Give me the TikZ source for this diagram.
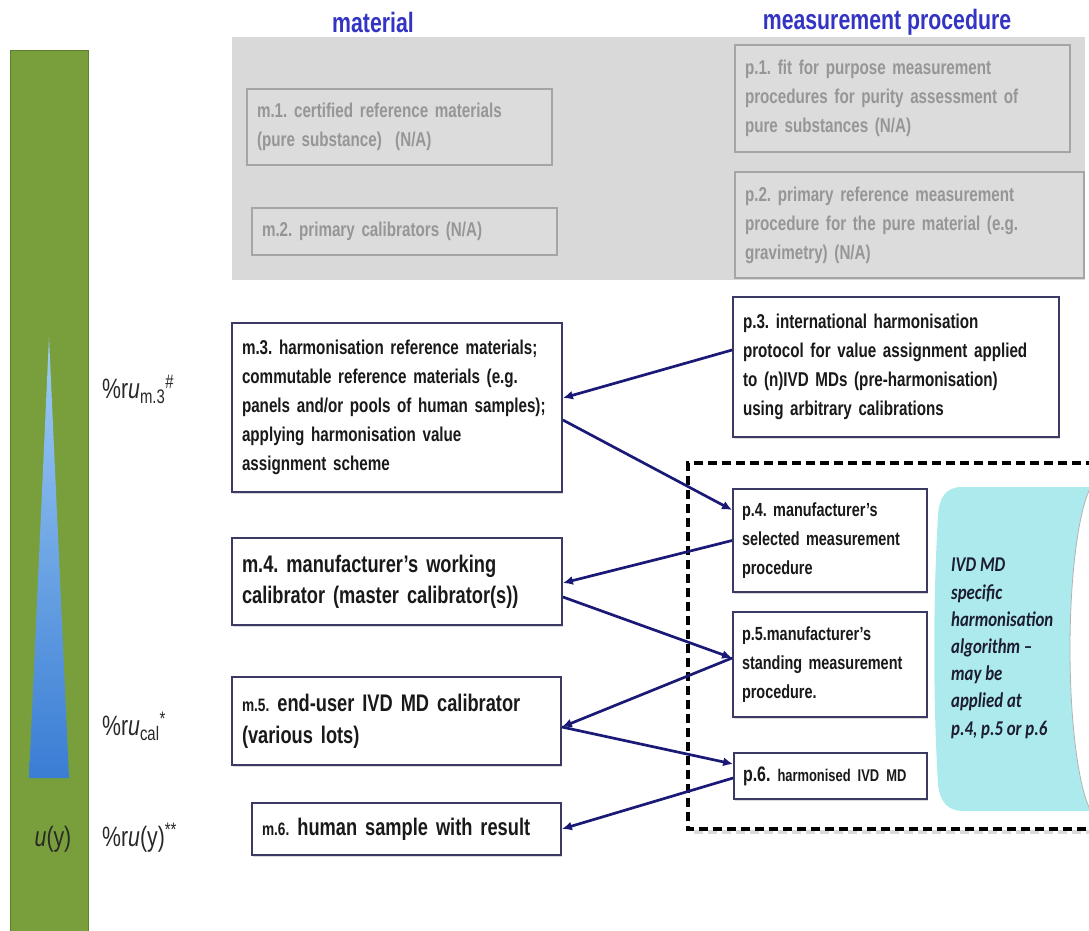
\documentclass[tikz,border=0pt]{standalone}
\usepackage{fontspec}
\setmainfont{Liberation Sans}[FakeStretch=0.76]
\newfontfamily\calib{Carlito}[FakeStretch=0.8]
\usetikzlibrary{shadows,arrows.meta}

\definecolor{barGreen}{RGB}{121,159,61}
\definecolor{barEdge}{RGB}{96,128,46}
\definecolor{triTop}{RGB}{160,205,245}
\definecolor{triBot}{RGB}{58,125,212}
\definecolor{bgGray}{RGB}{217,217,217}
\definecolor{gBoxFill}{RGB}{220,220,220}
\definecolor{gBoxLine}{RGB}{165,165,165}
\definecolor{gText}{RGB}{150,150,150}
\definecolor{hdrBlue}{RGB}{52,52,196}
\definecolor{boxLine}{RGB}{58,58,100}
\definecolor{navy}{RGB}{26,26,118}
\definecolor{algoCyan}{RGB}{172,234,238}
\definecolor{algoText}{RGB}{28,28,50}
\definecolor{lblText}{RGB}{40,40,40}

\begin{document}
\frenchspacing
\hyphenpenalty=10000
\exhyphenpenalty=10000
\begin{tikzpicture}[x=1pt,y=-1pt,
  box/.style={draw=boxLine, line width=1.8pt, fill=white, inner xsep=10pt,
    inner ysep=3pt, align=left, text=black!90,
    font=\bfseries\fontsize{20}{29}\selectfont,
    drop shadow={shadow xshift=1.2pt, shadow yshift=-2pt, opacity=0.3}},
  gbox/.style={draw=gBoxLine, line width=1.5pt, fill=gBoxFill, inner xsep=10pt,
    inner ysep=3pt, align=left, text=gText,
    font=\bfseries\fontsize{20}{29}\selectfont},
  header/.style={text=hdrBlue, font=\bfseries\fontsize{28}{28}\selectfont},
  lbl/.style={text=lblText, font=\fontsize{28}{28}\selectfont, inner sep=0pt},
  arr/.style={draw=navy, line width=2.7pt, -{Latex[length=10pt,width=9pt]}},
  algo/.style={text=algoText, align=left, inner sep=0pt,
    font=\calib\bfseries\itshape\fontsize{21}{27.2}\selectfont}
]
\useasboundingbox (0,0) rectangle (1089,931);

% uncertainty bar with the widening wedge
\fill[barGreen, draw=barEdge, line width=0.8pt] (10,50) rectangle (88,935);
\shade[top color=triTop, bottom color=triBot] (49,337) -- (69,778) -- (29,778) -- cycle;
\node[lbl, anchor=base] (uy) at (53,846) {\textit{u}(y)};

% relative uncertainty labels
\node[lbl, anchor=base west] (lm3) at (102,398) {\%r\textit{u}\textsubscript{m.3}\textsuperscript{\#}};
\node[lbl, anchor=base west] (lcal) at (102,735) {\%r\textit{u}\textsubscript{cal}\textsuperscript{*}};
\node[lbl, anchor=base west] (ly) at (102,846) {\%r\textit{u}(y)\textsuperscript{**}};

% column headers
\node[header] (hmat) at (373,22) {material};
\node[header] (hproc) at (887,22) {measurement procedure};

% not-applicable upper part
\fill[bgGray] (232,37) rectangle (1085,280);
\node[gbox, minimum width=305pt, minimum height=76pt, text width=285pt] (m1) at (399.5,127)
  {m.1. certified reference materials\\(pure substance)~~(N/A)};
\node[gbox, minimum width=305pt, minimum height=47pt, text width=285pt] (m2) at (404.5,231.5)
  {m.2. primary calibrators (N/A)};
\node[gbox, minimum width=335pt, minimum height=107pt, text width=315pt] (p1) at (902.5,98.5)
  {p.1. fit for purpose measurement\\procedures for purity assessment of\\pure substances (N/A)};
\node[gbox, minimum width=349pt, minimum height=106pt, text width=329pt] (p2) at (909.5,225)
  {p.2. primary reference measurement\\procedure for the pure material (e.g.\\gravimetry) (N/A)};

% dashed frame around the IVD MD procedures
\draw[black!15, line width=3.5pt, dash pattern=on 9pt off 5pt] (1095,832) -- (691,832);
\draw[black, line width=3.5pt, dash pattern=on 9pt off 5pt]
  (1095,463) -- (688,463) -- (688,829) -- (1095,829);

% harmonisation algorithm scroll
\fill[algoCyan] (1089,487) -- (962,487) .. controls (946,487) and (939,497) .. (938,516)
  .. controls (933,600) and (933,700) .. (938,784)
  .. controls (940,803) and (948,811) .. (964,811) -- (1089,811) -- cycle;
\fill[white, draw=black!30, line width=0.8pt] (1100,649) ellipse [x radius=30, y radius=170];
\node[algo, anchor=north west] (algo) at (951,558)
  {IVD MD\\specific\\harmonisation\\algorithm –\\may be\\applied at\\p.4, p.5 or p.6};

% material column
\node[box, minimum width=330pt, minimum height=169pt, text width=310pt] (m3) at (397,407.5)
  {m.3. harmonisation reference materials;\\commutable reference materials (e.g.\\panels and/or pools of human samples);\\applying harmonisation value\\assignment scheme};
\node[box, minimum width=330pt, minimum height=87pt, text width=310pt,
  font=\bfseries\fontsize{24}{31}\selectfont] (m4) at (397,581.5)
  {m.4. manufacturer's working\\calibrator (master calibrator(s))};
\node[box, minimum width=329pt, minimum height=88pt, text width=309pt,
  font=\bfseries\fontsize{24}{32}\selectfont] (m5) at (396.5,721)
  {{\fontsize{18}{32}\selectfont m.5.} end-user IVD MD calibrator\\(various lots)};
\node[box, minimum width=309pt, minimum height=52pt, text width=289pt,
  font=\bfseries\fontsize{24}{30}\selectfont] (m6) at (406.5,829)
  {{\fontsize{18}{30}\selectfont m.6.} human sample with result};

% measurement procedure column
\node[box, minimum width=326pt, minimum height=140pt, text width=306pt] (p3) at (896,367)
  {p.3. international harmonisation\\protocol for value assignment applied\\to (n)IVD MDs (pre-harmonisation)\\using arbitrary calibrations};
\node[box, minimum width=194pt, minimum height=103pt, text width=176pt, inner xsep=9pt,
  font=\bfseries\fontsize{19}{29}\selectfont] (p4) at (830,540.5)
  {p.4. manufacturer's\\selected measurement\\procedure};
\node[box, minimum width=194pt, minimum height=105pt, text width=176pt, inner xsep=9pt,
  font=\bfseries\fontsize{19}{29}\selectfont] (p5) at (830,664.5)
  {p.5.manufacturer's\\standing measurement\\procedure.};
\node[box, minimum width=193pt, minimum height=46pt, text width=175pt, inner xsep=9pt,
  font=\bfseries\fontsize{21}{29}\selectfont] (p6) at (830.5,776)
  {p.6. {\fontsize{17}{29}\selectfont harmonised IVD MD}};

% value transfer connectors
\draw[arr] ([yshift=17pt]p3.west) -- ([yshift=9.5pt]m3.east);
\draw[arr] ([yshift=-12.5pt]m3.east) -- ([yshift=30.5pt]p4.west);
\draw[arr] (p4.west) -- ([yshift=-1.5pt]m4.east);
\draw[arr] ([yshift=-15.5pt]m4.east) -- ([yshift=6.5pt]p5.west);
\draw[arr] ([yshift=6.5pt]p5.west) -- ([yshift=-6pt]m5.east);
\draw[arr] ([yshift=-6pt]m5.east) -- ([yshift=12pt]p6.west);
\draw[arr] ([yshift=-2pt]p6.west) -- (m6.east);
\end{tikzpicture}
\end{document}
